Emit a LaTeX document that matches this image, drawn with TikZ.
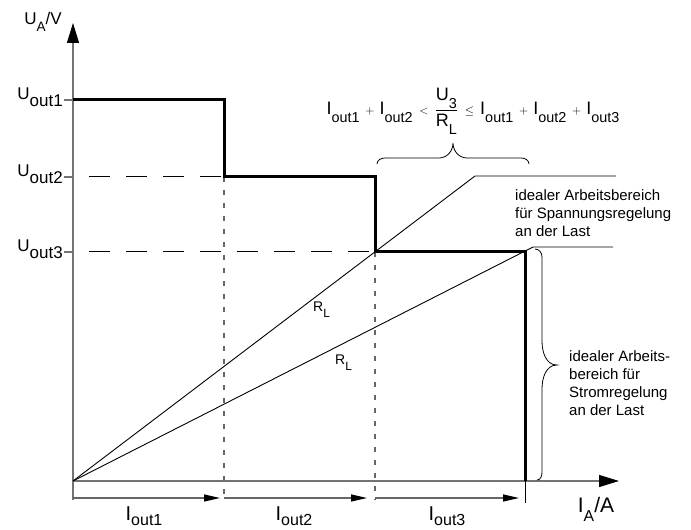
\documentclass[tikz,border=0pt]{standalone}
\usepackage{amsmath}
\usepackage{graphicx}
\usepackage{fontspec}
\setmainfont{Liberation Sans}
\usepackage{tikz}
\usetikzlibrary{arrows.meta,positioning,calc}
\newcommand{\lodrop}{.4em}
\newcommand{\lo}[2][1]{\raisebox{-\lodrop}{\scalebox{#1}{#2}}}
\newcommand{\kplus}{\mathbin{\mkern2mu\scriptstyle+\mkern2mu}}
\newcommand{\kless}{\mathrel{\mkern2mu\scriptstyle<\mkern2mu}}
\newcommand{\kleq}{\mathrel{\mkern2mu\scriptstyle\le\mkern2mu}}
\tikzset{
  % coordinate axis
  achse/.style={line width=1.4pt, black!55, -{Triangle[length=20pt,width=12pt,color=black]}},
  % small mark on the voltage axis
  strich/.style={line width=1.4pt, black!55},
  % output characteristic
  kennlinie/.style={line width=3pt, black, line join=miter},
  % load line
  lastlinie/.style={line width=0.9pt, black},
  % voltage level guide
  hlinie/.style={line width=1pt, black, dash pattern=on 21pt off 16pt, dash phase=21pt},
  % current boundary
  vlinie/.style={line width=1.2pt, black!60, dash pattern=on 5pt off 8pt},
  % current share arrow
  ipfeil/.style={line width=1.2pt, black!60, -{Triangle[length=16pt,width=7pt,color=black]}},
  % curly brace
  klammer/.style={line width=0.8pt, black},
  % labels
  ulbl/.style={inner sep=0pt, font=\fontsize{17}{20}\selectfont},
  ilbl/.style={inner sep=0pt, font=\fontsize{20}{24}\selectfont\renewcommand{\lodrop}{.25em}},
  rlbl/.style={inner sep=0pt, font=\fontsize{14}{16}\selectfont},
  txt/.style={inner sep=0pt, align=left, font=\fontsize{15}{18}\selectfont},
}

\begin{document}
\begin{tikzpicture}[x=1pt, y=1pt]
  \useasboundingbox (-73,-49) rectangle (618,481);
  % corner points
  \coordinate (O) at (0,0);
  \coordinate (ybot) at (0,-19);
  \coordinate (ytip) at (0,458);
  \coordinate (xtip) at (546,0);
  \coordinate (u1) at (0,381);
  \coordinate (u2) at (0,304);
  \coordinate (u3) at (0,229);
  \coordinate (k1) at (151,381);
  \coordinate (k2) at (151,304);
  \coordinate (k3) at (302,304);
  \coordinate (k4) at (302,229);
  \coordinate (k5) at (452,229);
  \coordinate (k6) at (452,0);
  \coordinate (k7) at (452,-22);
  % axes
  \draw[achse] (ybot) -- (ytip);
  \draw[achse] (O) -- (xtip);
  \node[ulbl, anchor=base east] (uav) at (-11,456) {U\lo[.8]{A}/V};
  \node[ilbl, anchor=base, font=\fontsize{21}{24}\selectfont] (iaa) at (523,-32) {I\lo[.75]{A}/A};
  % voltage levels
  \foreach \u/\t in {u1/out1, u2/out2, u3/out3} {
    \draw[strich] ($(\u)+(-9,0)$) -- (\u);
    \node[ulbl, anchor=base east] (lbl-\u) at ($(\u)+(-10,0)$) {U\lo{\t}};
  }
  \draw[hlinie] (u2) -- (k2);
  \draw[hlinie] (u3) -- (k4);
  % current boundaries
  \draw[vlinie] (k2) -- (151,-19);
  \draw[vlinie] (k4) -- (302,-19);
  \draw[lastlinie] (k6) -- (k7);
  % load lines
  \coordinate (ra) at (402,305);
  \coordinate (rb) at (543,305);
  \coordinate (rc) at (460,234);
  \coordinate (rd) at (540,234);
  \draw[lastlinie] (O) -- (ra) -- (rb);
  \draw[lastlinie] (O) -- (rc) -- (rd);
  \node[rlbl, anchor=base west] (rl1) at (240,169) {R\lo[.85]{L}};
  \node[rlbl, anchor=base west] (rl2) at (262,116) {R\lo[.85]{L}};
  % characteristic
  \draw[kennlinie] (u1) -- (k1) -- (k2) -- (k3) -- (k4) -- (k5) -- (k6);
  % current shares
  \draw[ipfeil] (0,-17) -- (147,-17);
  \draw[ipfeil] (151,-17) -- (294,-17);
  \draw[ipfeil] (302,-17) -- (446,-17);
  \node[ilbl, anchor=base] (i1) at (71,-40) {I\lo[.8]{out1}};
  \node[ilbl, anchor=base] (i2) at (221,-40) {I\lo[.8]{out2}};
  \node[ilbl, anchor=base] (i3) at (374,-40) {I\lo[.8]{out3}};
  % condition with brace
  \draw[klammer] (304,317) to[out=90,in=180] (312,323) -- (366,323)
    to[out=0,in=-90] (380,338) to[out=-90,in=180] (394,323) -- (448,323)
    to[out=0,in=90] (456,317);
  \node[ulbl, anchor=base, font=\fontsize{18}{20}\selectfont] (cond) at (400,366)
    {$\text{I\lo[.8]{out1}} \kplus \text{I\lo[.8]{out2}} \kless
      \dfrac{\text{U\lo[.8]{3}}}{\text{R\lo[.8]{L}}} \kleq
      \text{I\lo[.8]{out1}} \kplus \text{I\lo[.8]{out2}} \kplus \text{I\lo[.8]{out3}}$};
  \node[txt, anchor=north west] (spg) at (442,292)
    {idealer Arbeitsbereich\\f\"ur Spannungsregelung\\an der Last};
  % current range brace
  \draw[klammer] (462,232) to[out=0,in=90] (469,224) -- (469,140)
    to[out=-90,in=180] (484,116) to[out=180,in=90] (469,92) -- (469,9)
    to[out=-90,in=0] (464,1);
  \node[txt, anchor=north west] (str) at (496,131)
    {idealer Arbeits-\\bereich f\"ur\\Stromregelung\\an der Last};
\end{tikzpicture}
\end{document}
